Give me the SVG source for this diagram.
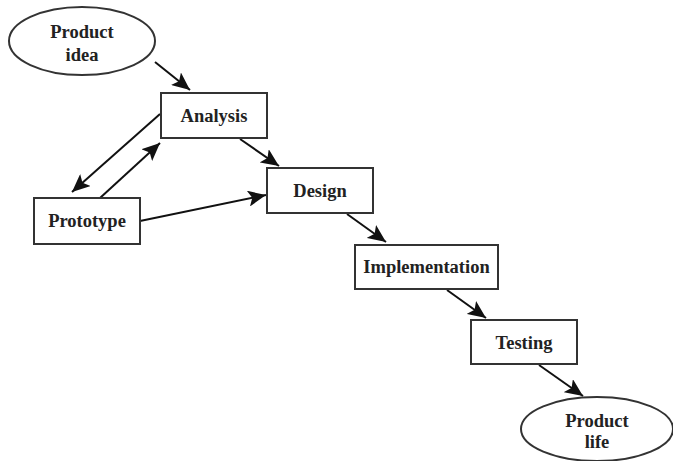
<svg xmlns="http://www.w3.org/2000/svg" width="673" height="461" viewBox="0 0 673 461">
<style>
.box{fill:#fff;stroke:#333;stroke-width:2}
.lbl{font-family:"Liberation Serif","Times New Roman",serif;font-weight:bold;font-size:18.5px;fill:#222;text-anchor:middle}
.edge{stroke:#111;stroke-width:2;fill:none;marker-end:url(#ah)}
</style>
<defs>
<marker id="ah" markerUnits="userSpaceOnUse" markerWidth="20" markerHeight="16" refX="18" refY="8" orient="auto">
<path d="M0,0 L18,8 L0,16 L4,8 Z" fill="#111"/>
</marker>
</defs>
<rect width="673" height="461" fill="#fff"/>
<g id="connectors">
<line class="edge" x1="155" y1="62" x2="190" y2="90"/>
<line class="edge" x1="160" y1="114" x2="72" y2="192"/>
<line class="edge" x1="100" y1="198" x2="160" y2="143"/>
<line class="edge" x1="140" y1="221" x2="266" y2="195"/>
<line class="edge" x1="240" y1="139" x2="279" y2="166"/>
<line class="edge" x1="347" y1="214" x2="386" y2="242"/>
<line class="edge" x1="447" y1="290" x2="486" y2="318"/>
<line class="edge" x1="539" y1="365" x2="583" y2="396"/>
</g>
<g id="product-idea">
<ellipse class="box" cx="82" cy="41" rx="73" ry="34"/>
<text class="lbl" x="82" y="38">Product</text>
<text class="lbl" x="82" y="61">idea</text>
</g>
<g id="analysis">
<rect class="box" x="161" y="93" width="106" height="45"/>
<text class="lbl" x="214" y="122">Analysis</text>
</g>
<g id="prototype">
<rect class="box" x="34" y="198" width="106" height="46"/>
<text class="lbl" x="87" y="227">Prototype</text>
</g>
<g id="design">
<rect class="box" x="267" y="168" width="106" height="45"/>
<text class="lbl" x="320" y="197">Design</text>
</g>
<g id="implementation">
<rect class="box" x="355" y="245" width="143" height="44"/>
<text class="lbl" x="426.5" y="273">Implementation</text>
</g>
<g id="testing">
<rect class="box" x="471" y="320" width="106" height="44"/>
<text class="lbl" x="524" y="349">Testing</text>
</g>
<g id="product-life">
<ellipse class="box" cx="597" cy="429" rx="76" ry="32"/>
<text class="lbl" x="597" y="427">Product</text>
<text class="lbl" x="597" y="448">life</text>
</g>
</svg>
